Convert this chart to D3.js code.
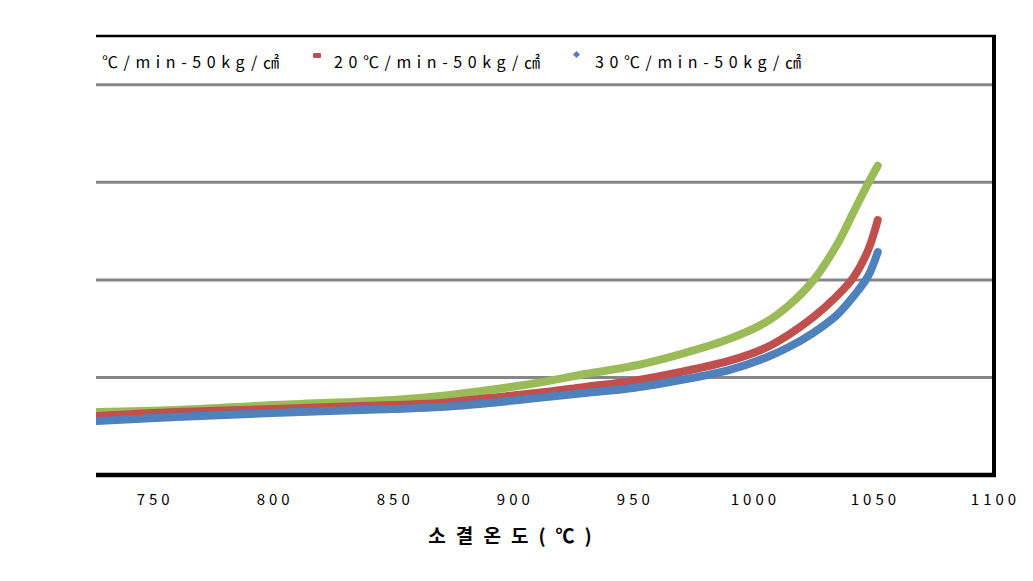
<!DOCTYPE html>
<html><head><meta charset="utf-8">
<script src="https://cdn.jsdelivr.net/npm/d3@7"></script>
<style>
html,body{margin:0;padding:0;background:#fff;}
svg{display:block;}
text{font-family:"Noto Sans CJK KR","Noto Sans",sans-serif;}
</style></head>
<body>
<script>
// Data
const temps = [727, 760, 800, 850, 870, 890, 910, 930, 950, 970, 990, 1005, 1015, 1025, 1035, 1042, 1048, 1052];
const s10 = [0.646, 0.666, 0.717, 0.769, 0.810, 0.871, 0.943, 1.035, 1.117, 1.240, 1.394, 1.560, 1.740, 1.990, 2.360, 2.700, 2.990, 3.170];
const s20 = [0.605, 0.646, 0.677, 0.718, 0.738, 0.789, 0.840, 0.902, 0.964, 1.056, 1.169, 1.300, 1.440, 1.615, 1.835, 2.030, 2.306, 2.614];
const s30 = [0.553, 0.595, 0.636, 0.677, 0.697, 0.738, 0.789, 0.840, 0.892, 0.974, 1.076, 1.199, 1.312, 1.455, 1.640, 1.835, 2.040, 2.286];
const seriesNames = ["10℃/min-50kg/㎠", "20℃/min-50kg/㎠", "30℃/min-50kg/㎠"];
const seriesColors = ["#9BBB59", "#C0504D", "#4F81BD"];
const xTicks = [750, 800, 850, 900, 950, 1000, 1050, 1100];
const yGrid = [1, 2, 3, 4];
const xTitle = "소결 온도(℃)";

const W = 1033, H = 581;
const L = 96, R = 994, T = 36, B = 475;

const svg = d3.select("body").append("svg").attr("width", W).attr("height", H);

const x = d3.scaleLinear().domain([726, 1100]).range([95, 993]);
const y = d3.scaleLinear().domain([0, 4.5]).range([B, T]);

// gridlines
svg.append("g").selectAll("line").data(yGrid).join("line")
  .attr("x1", L).attr("x2", R)
  .attr("y1", d => y(d)).attr("y2", d => y(d))
  .attr("stroke", "#868686").attr("stroke-width", 3);

// clip
svg.append("clipPath").attr("id", "plotclip").append("rect")
  .attr("x", L).attr("y", T).attr("width", R - L).attr("height", B - T);

// series
const data = [s10, s20, s30].map((vals, i) => ({
  name: seriesNames[i], color: seriesColors[i],
  pts: temps.map((t, j) => [t, vals[j]])
}));
const line = d3.line().x(d => x(d[0])).y(d => y(d[1])).curve(d3.curveCatmullRom.alpha(0.5));
svg.append("g").attr("clip-path", "url(#plotclip)")
  .selectAll("path").data(data).join("path")
  .attr("d", d => line(d.pts))
  .attr("fill", "none").attr("stroke", d => d.color)
  .attr("stroke-width", 8).attr("stroke-linecap", "round").attr("stroke-linejoin", "round");

// borders
svg.append("line").attr("x1", L).attr("x2", R + 2).attr("y1", T).attr("y2", T)
  .attr("stroke", "#000").attr("stroke-width", 2.3);
svg.append("line").attr("x1", R).attr("x2", R).attr("y1", T).attr("y2", B + 2)
  .attr("stroke", "#000").attr("stroke-width", 4);
svg.append("line").attr("x1", L).attr("x2", R + 2).attr("y1", B).attr("y2", B)
  .attr("stroke", "#000").attr("stroke-width", 4.3);

// x axis labels
const xAxis = d3.axisBottom(x).tickValues(xTicks).tickSize(0).tickPadding(0).tickFormat(d3.format("d"));
const gx = svg.append("g").attr("transform", `translate(0,${B})`).call(xAxis);
gx.select(".domain").remove();
gx.selectAll("text")
  .attr("dy", null).attr("y", 30)
  .attr("fill", "#000")
  .style("font-size", "15px").style("letter-spacing", "4px")
  .attr("dx", "2px");

// x title
svg.append("text").attr("x", 515).attr("y", 543)
  .attr("text-anchor", "middle")
  .style("font-size", "19px").style("font-weight", "bold")
  .style("letter-spacing", "10px").style("word-spacing", "-14px")
  .text(xTitle);

// legend
const lg = svg.append("g").attr("clip-path", "url(#plotclip)");
const legX = d3.scaleLinear().domain([0, 1]).range([73, 334]);
const items = lg.selectAll("g").data(data).join("g")
  .attr("transform", (d, i) => `translate(${legX(i)},64)`);
items.append("text").attr("x", 0).attr("y", 0)
  .style("font-size", "16px").style("letter-spacing", "5.6px")
  .attr("dominant-baseline", "middle")
  .text(d => d.name);
items.each(function(d, i) {
  const g = d3.select(this);
  if (i === 2) {
    g.append("rect").attr("x", -21).attr("y", -12).attr("width", 5).attr("height", 5)
      .attr("transform", "rotate(45,-18.5,-9.5)").attr("fill", d.color);
  } else {
    g.append("rect").attr("x", -21).attr("y", -11).attr("width", 8).attr("height", 5)
      .attr("rx", 1).attr("fill", d.color);
  }
});
</script>
</body></html>
